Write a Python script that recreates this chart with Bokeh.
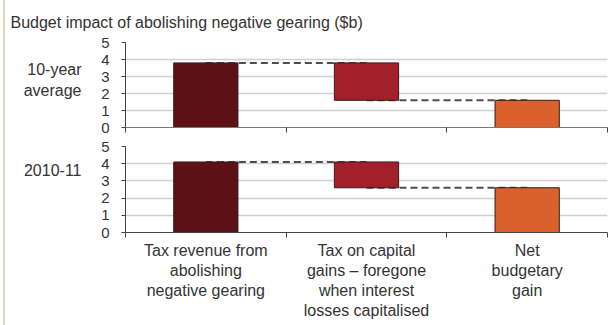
from bokeh.plotting import figure
from bokeh.layouts import column
from bokeh.models import FixedTicker, Range1d, Title, LinearAxis
from bokeh.embed import file_html
from bokeh.resources import INLINE

# ---- data ----
categories = ["Tax revenue from\nabolishing\nnegative gearing",
              "Tax on capital\ngains \u2013 foregone\nwhen interest\nlosses capitalised",
              "Net\nbudgetary\ngain"]
panels = ["10-year\naverage", "2010-11"]
panel_label_y = [2.8, 3.66]
revenue = [3.8, 4.1]      # tax revenue from abolishing negative gearing
foregone = [2.2, 1.5]     # CGT foregone
y_ticks = [0, 1, 2, 3, 4, 5]

FONT = "Liberation Sans"
TXT = "#333333"
colors = ["#5c1115", "#a3202a", "#d8612c"]
W = 604


def make_panel(i, height, top, bottom, show_labels):
    p = figure(width=W, height=height, output_backend="svg", toolbar_location=None,
               x_range=Range1d(0, len(categories)), y_range=Range1d(0, 5),
               min_border_left=120, min_border_right=2,
               min_border_top=top, min_border_bottom=bottom,
               outline_line_color=None, background_fill_color="white",
               border_fill_color="white")
    net = revenue[i] - foregone[i]
    xs = [k + 0.5 for k in range(len(categories))]
    tops = [revenue[i], revenue[i], net]
    bottoms = [0, net, 0]
    p.segment(x0=xs[:2], x1=xs[1:], y0=[revenue[i], net], y1=[revenue[i], net],
              line_color="#4d4d4d", line_width=2, line_dash="7 4")
    p.vbar(x=xs, width=0.4, top=tops, bottom=bottoms, fill_color=colors,
           line_color="#3a1a1a", line_width=1)

    p.xgrid.visible = False
    p.ygrid.ticker = FixedTicker(ticks=y_ticks)
    p.ygrid.grid_line_color = "#cfcfcf"
    p.ygrid.grid_line_width = 1.5

    ya = p.yaxis[0]
    ya.ticker = FixedTicker(ticks=y_ticks)
    ya.axis_line_color = "#444444"
    ya.major_tick_line_color = "#444444"
    ya.major_tick_out = 4
    ya.major_tick_in = 0
    ya.minor_tick_line_color = None
    ya.major_label_standoff = 12
    ya.major_label_text_font = FONT
    ya.major_label_text_font_size = "15px"
    ya.major_label_text_color = TXT

    # row label as an outer left axis with one labelled tick
    ra = LinearAxis(ticker=FixedTicker(ticks=[panel_label_y[i]]),
                    major_label_overrides={panel_label_y[i]: panels[i]},
                    axis_line_color=None, major_tick_line_color=None,
                    minor_tick_line_color=None, major_label_standoff=11,
                    major_label_text_font=FONT, major_label_text_font_size="16px",
                    major_label_text_color=TXT, major_label_text_line_height=1.25)
    p.add_layout(ra, "left")

    xa = p.xaxis[0]
    xa.ticker = FixedTicker(ticks=xs, minor_ticks=[0, 1, 2, 3])
    xa.major_label_overrides = {x: c for x, c in zip(xs, categories)}
    xa.major_tick_out = 0
    xa.major_tick_in = 0
    xa.minor_tick_out = 5
    xa.minor_tick_in = 0
    xa.minor_tick_line_color = "#444444"
    xa.axis_line_color = "#444444" if show_labels else "#777777"
    xa.major_label_standoff = 4
    xa.major_label_text_font = FONT
    xa.major_label_text_font_size = "16px" if show_labels else "0px"
    xa.major_label_text_line_height = 1.18
    xa.major_label_text_color = TXT
    return p


p1 = make_panel(0, 137, 40, 10, False)
p2 = make_panel(1, 188, 9, 93, True)

t = Title(text="Budget impact of abolishing negative gearing ($b)", align="left",
          offset=-115, standoff=23, text_font=FONT, text_font_size="16px",
          text_font_style="normal", text_color=TXT)
p1.add_layout(t, "above")

layout = column(p1, p2, spacing=0,
                styles={"border-left": "2px solid #e6d2b4", "margin-left": "3px"})
open("out.html", "w").write(file_html(layout, INLINE))
